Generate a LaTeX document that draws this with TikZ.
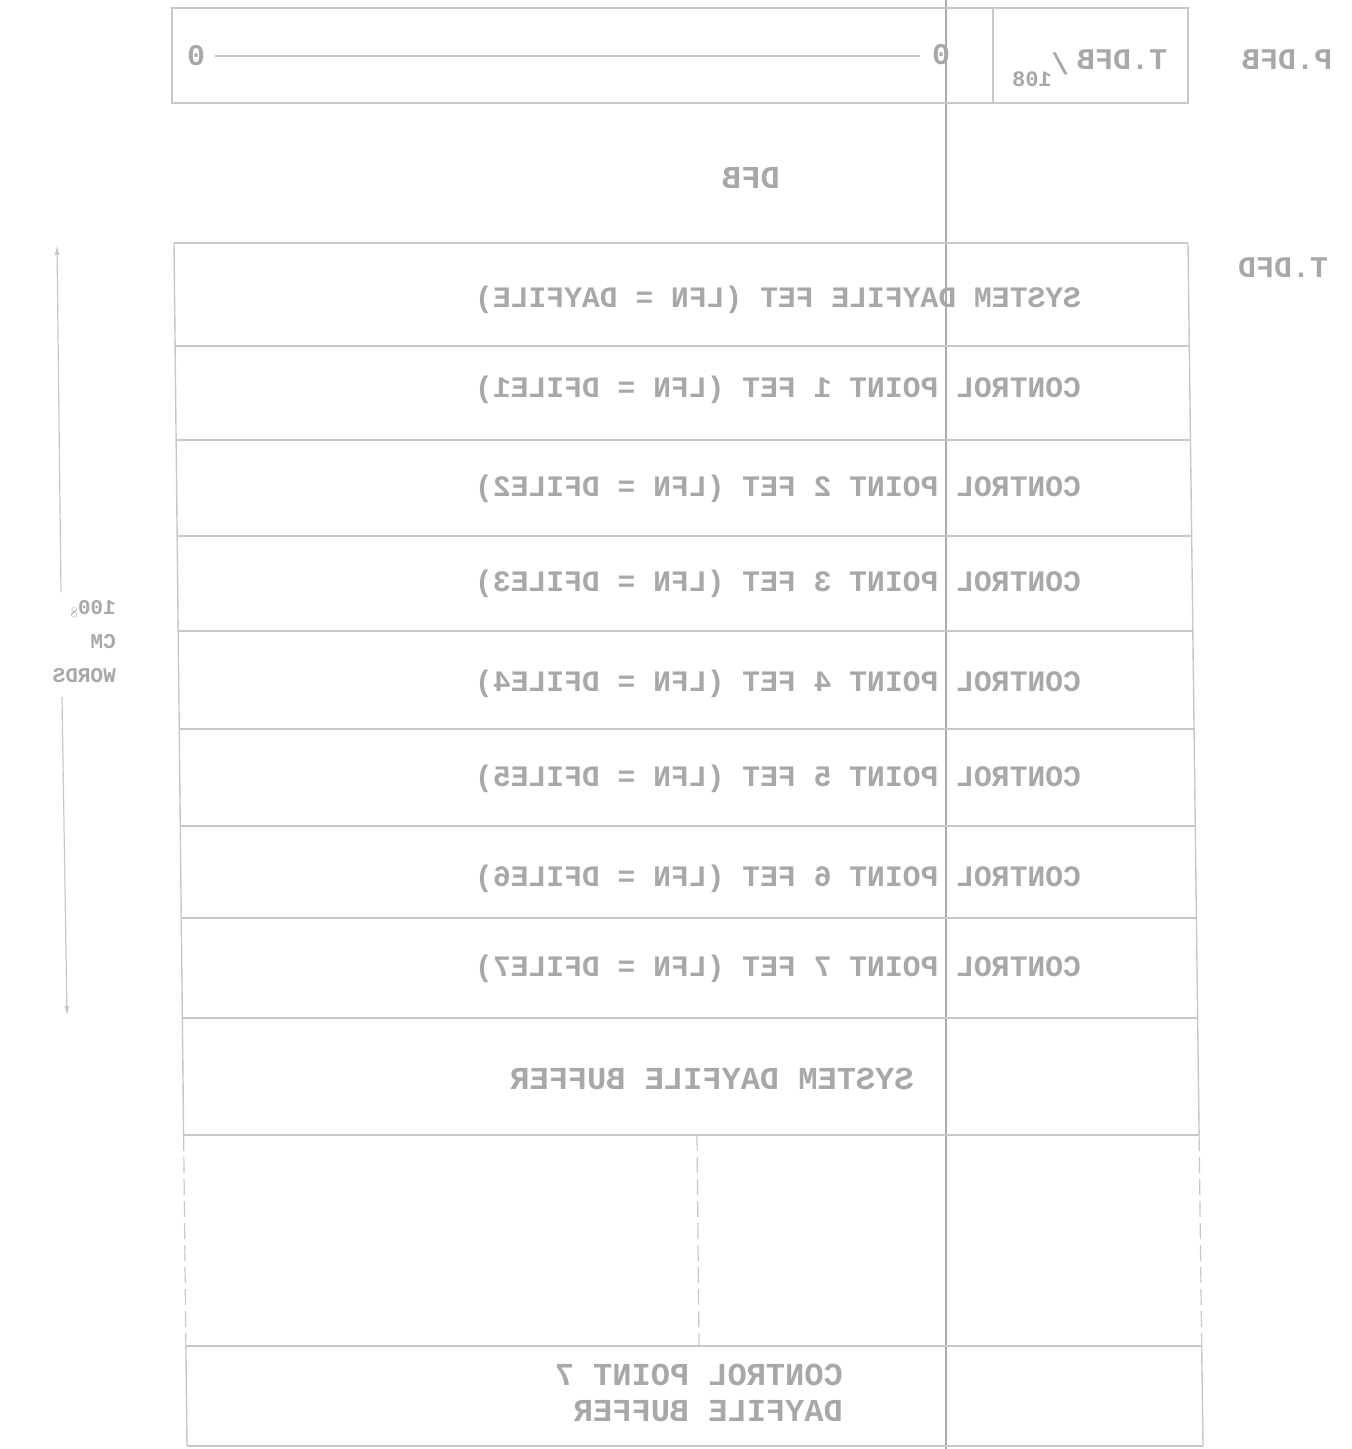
\documentclass[tikz,border=0pt]{standalone}
\usepackage{fontspec}
\setmonofont{Liberation Mono}
\usepackage{graphicx}
\usetikzlibrary{arrows.meta}
\definecolor{inkline}{RGB}{200,200,200}
\definecolor{inktext}{RGB}{168,168,168}
\definecolor{inkrule}{RGB}{172,172,172}
\newcommand{\mirr}[1]{\reflectbox{#1}}
\begin{document}
\begin{tikzpicture}[x=1pt,y=-1pt,
  frame/.style={draw=inkline,line width=1.4pt},
  gapline/.style={draw=inkline,line width=1.2pt,dash pattern=on 16pt off 6pt},
  rowtext/.style={text=inktext,font=\ttfamily\bfseries\fontsize{29.7}{34}\selectfont,inner sep=0pt},
  bigtext/.style={text=inktext,font=\ttfamily\bfseries\fontsize{32}{36}\selectfont,inner sep=0pt},
  lbltext/.style={text=inktext,font=\ttfamily\bfseries\fontsize{30}{34}\selectfont,inner sep=0pt},
  smalltext/.style={text=inktext,font=\ttfamily\bfseries\fontsize{22}{26}\selectfont,inner sep=0pt},
  midtext/.style={text=inktext,font=\ttfamily\bfseries\fontsize{21}{34}\selectfont,inner sep=0pt},
  dimarrow/.style={draw=inkline,line width=1.2pt,-{Latex[length=10pt,width=5pt]}}
]
\fill[white] (0,0) rectangle (1352,1449);
\useasboundingbox (0,0) rectangle (1352,1449);

% long vertical rule
\coordinate (vt) at (946,0);
\coordinate (vb) at (946,1449);
\draw[draw=inkrule,line width=1.2pt] (vt) -- (vb);

% top box
\coordinate (tbl) at (172,8);
\coordinate (tbr) at (1188,103);
\draw[frame] (tbl) rectangle (tbr);
\coordinate (dvt) at (993,8);
\coordinate (dvb) at (993,103);
\draw[frame] (dvt) -- (dvb);
\node[lbltext] (zl) at (196,56) {\mirr{0}};
\node[lbltext] (zr) at (941,55) {\mirr{0}};
\draw[frame] (zl.east) ++(10,0) coordinate (zla) -- ([xshift=-12pt]zla -| zr.west) coordinate (zra);
\node[lbltext] (tdfb) at (1122,60) {\mirr{T.DFB}};
\node[lbltext] (slash) at (1060,64) {\mirr{/}};
\node[smalltext] (n108) at (1032,79) {\mirr{108}};
\node[lbltext] (pdfb) at (1287,60) {\mirr{P.DFB}};

% DFB label
\node[bigtext] (dfb) at (751,178) {\mirr{DFB}};
\node[lbltext] (tdfd) at (1283,268) {\mirr{T.DFD}};

% main stack boundary coordinates
\coordinate (L0) at (174,243);    \coordinate (R0) at (1188,243);
\coordinate (L1) at (175.1,346);  \coordinate (R1) at (1189.3,346);
\coordinate (L2) at (176.1,440);  \coordinate (R2) at (1190.5,440);
\coordinate (L3) at (177.2,536);  \coordinate (R3) at (1191.7,536);
\coordinate (L4) at (178.2,631);  \coordinate (R4) at (1192.8,631);
\coordinate (L5) at (179.3,729);  \coordinate (R5) at (1194.1,729);
\coordinate (L6) at (180.3,826);  \coordinate (R6) at (1195.3,826);
\coordinate (L7) at (181.3,918);  \coordinate (R7) at (1196.4,918);
\coordinate (L8) at (182.4,1018); \coordinate (R8) at (1197.6,1018);
\coordinate (L9) at (183.6,1135); \coordinate (R9) at (1199.1,1135);
\coordinate (L10) at (185.9,1346); \coordinate (R10) at (1201.7,1346);
\coordinate (L11) at (187,1446);  \coordinate (R11) at (1203,1446);

\foreach \i in {0,...,11} { \draw[frame] (L\i) -- (R\i); }
\draw[frame] (L0) -- (L9);
\draw[gapline] (L9) -- (L10);
\draw[frame] (L10) -- (L11);
\draw[frame] (R0) -- (R9);
\draw[gapline] (R9) -- (R10);
\draw[frame] (R10) -- (R11);
\coordinate (M1) at (697,1135);
\coordinate (M2) at (699,1346);
\draw[gapline] (M1) -- (M2);

% row texts
\node[rowtext] (r1) at (778,300) {\mirr{SYSTEM DAYFILE FET (LFN = DAYFILE)}};
\node[rowtext] (r2) at (778,390) {\mirr{CONTROL POINT 1 FET (LFN = DFILE1)}};
\node[rowtext] (r3) at (778,489) {\mirr{CONTROL POINT 2 FET (LFN = DFILE2)}};
\node[rowtext] (r4) at (778,584) {\mirr{CONTROL POINT 3 FET (LFN = DFILE3)}};
\node[rowtext] (r5) at (778,684) {\mirr{CONTROL POINT 4 FET (LFN = DFILE4)}};
\node[rowtext] (r6) at (778,779) {\mirr{CONTROL POINT 5 FET (LFN = DFILE5)}};
\node[rowtext] (r7) at (778,879) {\mirr{CONTROL POINT 6 FET (LFN = DFILE6)}};
\node[rowtext] (r8) at (778,969) {\mirr{CONTROL POINT 7 FET (LFN = DFILE7)}};
\node[bigtext] (sdb) at (712,1079) {\mirr{SYSTEM DAYFILE BUFFER}};
\node[bigtext,anchor=east] (cp7) at (843,1396) {\mirr{\begin{tabular}{@{}l@{}}CONTROL POINT 7\\DAYFILE BUFFER\end{tabular}}};

% dimension
\node[midtext,anchor=east] (dim) at (116,642) {\mirr{\begin{tabular}{@{}l@{}}100$_{\mathrm{8}}$\\CM\\WORDS\end{tabular}}};
\coordinate (dt) at (57,245);
\coordinate (dm1) at (61,592);
\coordinate (dm2) at (62,697);
\coordinate (db) at (67,1016);
\draw[dimarrow] (dm1) -- (dt);
\draw[dimarrow] (dm2) -- (db);
\end{tikzpicture}
\end{document}
